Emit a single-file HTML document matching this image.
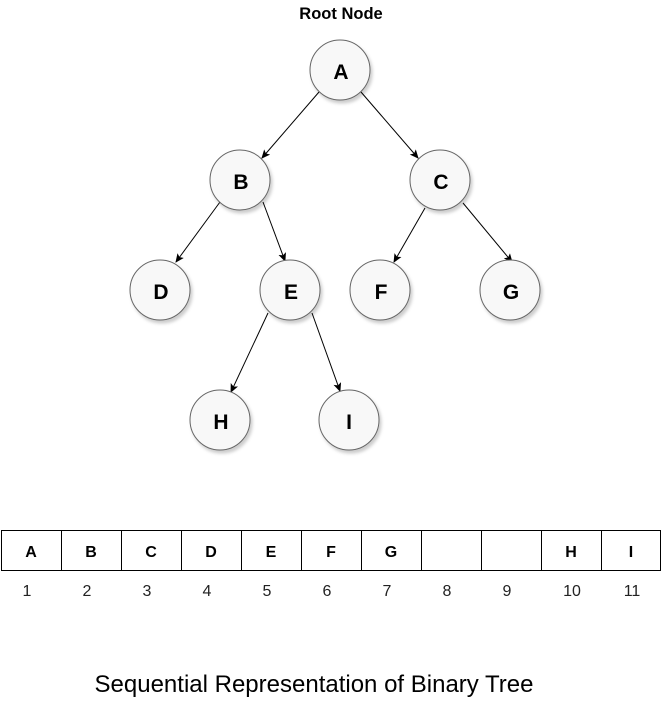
<!DOCTYPE html>
<html><head><style>
body{margin:0;background:#fff;}
svg{display:block;font-family:"Liberation Sans",sans-serif;}
</style></head><body>
<svg width="667" height="703" viewBox="0 0 667 703">
<defs>
<marker id="ar" markerWidth="10" markerHeight="10" refX="8" refY="4" orient="auto" markerUnits="userSpaceOnUse">
<path d="M0,0 L9,4 L0,8 L2,4 Z" fill="#000"/>
</marker>
<filter id="sh" x="-20%" y="-20%" width="150%" height="150%">
<feDropShadow dx="2" dy="3" stdDeviation="1.5" flood-color="#000" flood-opacity="0.2"/>
</filter>
</defs>
<text x="341" y="19" font-size="16.5" font-weight="bold" text-anchor="middle">Root Node</text>
<g stroke="#000" stroke-width="1" marker-end="url(#ar)">
<line x1="319" y1="92" x2="262" y2="158"/>
<line x1="361" y1="92" x2="418" y2="158"/>
<line x1="220" y1="202" x2="176" y2="262"/>
<line x1="263" y1="202" x2="285" y2="261"/>
<line x1="425" y1="208" x2="394" y2="262"/>
<line x1="463" y1="203" x2="512" y2="262"/>
<line x1="268" y1="313" x2="231" y2="392"/>
<line x1="312" y1="313" x2="340" y2="391"/>
</g>
<g fill="#f8f8f8" stroke="#666" stroke-width="1" filter="url(#sh)">
<circle cx="340" cy="70" r="30"/>
<circle cx="240" cy="180" r="30"/>
<circle cx="440" cy="180" r="30"/>
<circle cx="160" cy="290" r="30"/>
<circle cx="290" cy="290" r="30"/>
<circle cx="380" cy="290" r="30"/>
<circle cx="510" cy="290" r="30"/>
<circle cx="220" cy="420" r="30"/>
<circle cx="349" cy="420" r="30"/>
</g>
<g font-size="21" font-weight="bold" text-anchor="middle">
<text x="341" y="79">A</text>
<text x="241" y="189">B</text>
<text x="441" y="189">C</text>
<text x="161" y="299">D</text>
<text x="291" y="299">E</text>
<text x="381" y="299">F</text>
<text x="511" y="299">G</text>
<text x="221" y="429">H</text>
<text x="349" y="429">I</text>
</g>
<g fill="#fff" stroke="#000" stroke-width="1">
<rect x="1.5" y="530.5" width="60" height="40"/>
<rect x="61.5" y="530.5" width="60" height="40"/>
<rect x="121.5" y="530.5" width="60" height="40"/>
<rect x="181.5" y="530.5" width="60" height="40"/>
<rect x="241.5" y="530.5" width="60" height="40"/>
<rect x="301.5" y="530.5" width="60" height="40"/>
<rect x="361.5" y="530.5" width="60" height="40"/>
<rect x="421.5" y="530.5" width="60" height="40"/>
<rect x="481.5" y="530.5" width="60" height="40"/>
<rect x="541.5" y="530.5" width="60" height="40"/>
<rect x="601.5" y="530.5" width="59" height="40"/>
</g>
<g font-size="16" font-weight="bold" text-anchor="middle">
<text x="31" y="557">A</text><text x="91" y="557">B</text><text x="151" y="557">C</text>
<text x="211" y="557">D</text><text x="271" y="557">E</text><text x="331" y="557">F</text>
<text x="391" y="557">G</text><text x="571" y="557">H</text><text x="631" y="557">I</text>
</g>
<g font-size="16" text-anchor="middle" fill="#222">
<text x="27" y="596">1</text><text x="87" y="596">2</text><text x="147" y="596">3</text>
<text x="207" y="596">4</text><text x="267" y="596">5</text><text x="327" y="596">6</text>
<text x="387" y="596">7</text><text x="447" y="596">8</text><text x="507" y="596">9</text>
<text x="572" y="596">10</text><text x="632" y="596">11</text>
</g>
<text x="314" y="692" font-size="24" text-anchor="middle">Sequential Representation of Binary Tree</text>
</svg>
</body></html>
